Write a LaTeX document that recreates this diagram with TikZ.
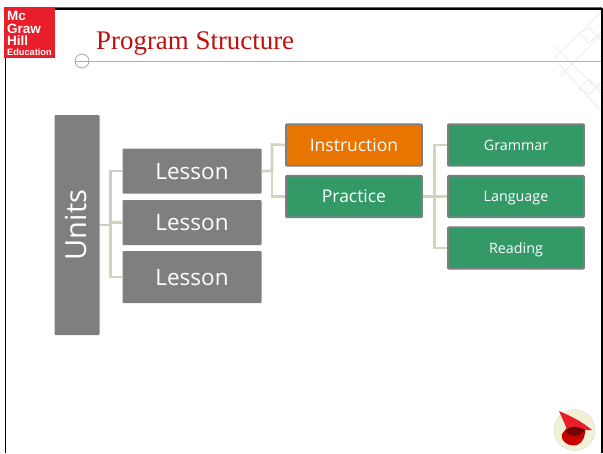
\documentclass[tikz,border=0pt]{standalone}
\usepackage{fontspec}
\setmainfont{Liberation Serif}
\newfontfamily\boxfont{Open Sans}
\newfontfamily\logofont{Liberation Sans}
\usetikzlibrary{calc}
\definecolor{boxgray}{HTML}{7F7F7F}
\definecolor{boxgreen}{HTML}{339966}
\definecolor{boxorange}{HTML}{E87500}
\definecolor{linkcol}{HTML}{D3D4BE}
\definecolor{linkgray}{HTML}{CCCCCC}
\definecolor{logored}{HTML}{E81E2A}
\definecolor{titlered}{HTML}{C00F0F}
\definecolor{patt}{HTML}{E6E8E8}
\tikzset{
  x=1pt,y=-1pt,
  pbox/.style={rounded corners=1pt,anchor=center,inner sep=0pt,text=white,font=\boxfont,text depth=0pt},
  graybox/.style={pbox,fill=boxgray},
  greenbox/.style={pbox,fill=boxgreen,draw=boxgray,line width=1.8pt},
  orangebox/.style={pbox,fill=boxorange,draw=boxgray,line width=1.8pt},
  bigtext/.style={font=\boxfont\fontsize{22.5}{22.5}\selectfont,text height=16pt},
  midtext/.style={font=\boxfont\fontsize{17.5}{17.5}\selectfont,text height=12.6pt},
  smalltext/.style={font=\boxfont\fontsize{14.3}{14.3}\selectfont,text height=10.3pt},
  link/.style={draw=linkcol,line width=2.6pt},
  linkg/.style={draw=linkgray,line width=2.6pt},
  patline/.style={draw=patt,line width=0.6pt},
  logotext/.style={anchor=west,inner sep=0pt,text=white,font=\logofont\bfseries\fontsize{13.5}{13.5}\selectfont},
}
\begin{document}
\begin{tikzpicture}
\useasboundingbox (0,0) rectangle (603,453);
\fill[white] (0,0) rectangle (603,453);
% decorative pattern
\begin{scope}
\clip (480,9) rectangle (601,120);
\draw[patline] (554,59) -- (601,12) (559,77) -- (601,35);
\draw[patline] (554,46) -- (601,93) (559,64) -- (601,111);
\draw[patline] (579,33) -- (590,28) -- (601,40) (589,43) -- (601,32);
\draw[patline] (579,89) -- (590,94) -- (601,82) (589,79) -- (601,90);
\draw[patline] (579,33) -- (589,43) (579,89) -- (589,79);
\end{scope}
% frame
\draw[gray!80!black,line width=1pt] (4.5,7) -- (602,7);
\draw[black,line width=1.5pt] (5.5,453) -- (5.5,8.8) -- (601.8,8.8) -- (601.8,453);
% logo
\fill[logored] (4,7) rectangle (55,58);
\node[logotext] (mc) at (7,16) {Mc};
\node[logotext] (graw) at (7,28.5) {Graw};
\node[logotext] (hill) at (7,41) {Hill};
\node[logotext,font=\logofont\bfseries\fontsize{9.2}{9.2}\selectfont] (edu) at (7,52) {Education};
% title
\node[anchor=base west,inner sep=0pt,text=titlered,font=\fontsize{26.9}{26.9}\selectfont] (title) at (96,49) {Program Structure};
\coordinate (ruleend) at (601,61);
\node[circle,draw=gray!70,line width=0.8pt,fill=white,minimum size=14pt,inner sep=0pt] (dot) at (82,61) {};
\draw[gray!60,line width=1pt] (dot.east) -- (ruleend);
\draw[gray!70,line width=0.6pt] (dot.west) -- (dot.east);
% boxes
\node[graybox,minimum width=45pt,minimum height=220pt] (units) at (77,225) {};
\node[graybox,minimum width=139pt,minimum height=45pt,bigtext] (l1) at (192,171) {Lesson};
\node[graybox,minimum width=139pt,minimum height=45pt,bigtext] (l2) at (192,222.5) {Lesson};
\node[graybox,minimum width=139pt,minimum height=52pt,bigtext] (l3) at (192,277) {Lesson};
\node[orangebox,minimum width=136pt,minimum height=41.5pt,midtext] (ins) at (354,145) {Instruction};
\node[greenbox,minimum width=136pt,minimum height=41.5pt,midtext] (pra) at (354,196.5) {Practice};
\node[greenbox,minimum width=136pt,minimum height=41.5pt,smalltext] (gra) at (516,145) {Grammar};
\node[greenbox,minimum width=136pt,minimum height=41.5pt,smalltext] (lan) at (516,196.5) {Language};
\node[greenbox,minimum width=136pt,minimum height=41.5pt,smalltext] (rea) at (516,248) {Reading};
\node[text=white,font=\boxfont\fontsize{29}{29}\selectfont,rotate=90,inner sep=0pt] (unitlabel) at (76,225) {Units};
% connectors
\draw[linkg] (l1.west) -- (110.5,171) -- (110.5,225) -- (units.east);
\draw[link] (units.east) ++(8,0) -- (110.5,225) -- (110.5,277) -- (l3.west);
\draw[link] (110.5,222.5) -- (l2.west);
\draw[link] (l1.east) -- (272,171) -- (272,144.5) -- (ins.west);
\draw[link] (272,171) -- (272,196.5) -- (pra.west);
\draw[link] (pra.east) -- (434.5,196.5) -- (434.5,145) -- (gra.west);
\draw[link] (434.5,196.5) -- (lan.west);
\draw[link] (434.5,196.5) -- (434.5,248) -- (rea.west);
% emblem
\fill[draw=gray!35,line width=0.3pt,fill=olive!12!white] (574.5,430) circle (20.5);
\fill[red!78!black] (562,434) .. controls (560,442) and (570,447) .. (577,445) .. controls (583,443) and (586,435) .. (585,428) -- (570,424) -- cycle;
\fill[logored] (559,411) .. controls (568,415) and (580,420) .. (592,430) .. controls (582,430) and (572,431) .. (567,429) -- cycle;
\fill[red!45!black] (566,431) .. controls (568,426) and (576,425) .. (585,430) .. controls (580,437) and (569,438) .. (566,431) -- cycle;
\end{tikzpicture}
\end{document}
